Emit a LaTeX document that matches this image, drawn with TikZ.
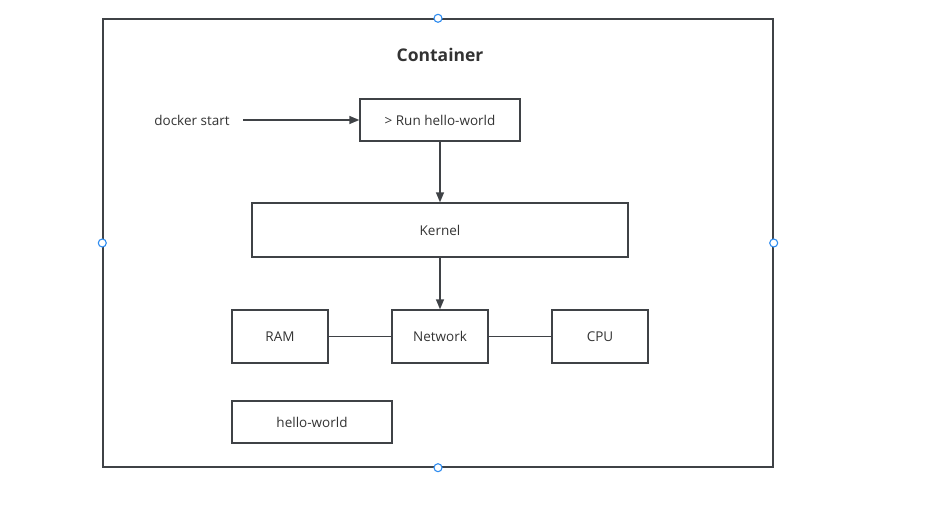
\documentclass[tikz,border=0pt]{standalone}
\usepackage{fontspec}
\setmainfont{Open Sans}
\usetikzlibrary{arrows.meta}
\definecolor{linegray}{HTML}{3F4246}
\definecolor{textgray}{HTML}{333333}
\definecolor{handleblue}{HTML}{2F8CF0}

\begin{document}
\begin{tikzpicture}[x=1pt, y=-1pt,
    box/.style = {draw = linegray, line width = 1.4pt, text = textgray, font = \fontsize{13.5}{16}\selectfont, inner sep = 0pt},
    link/.style = {draw = linegray, line width = 1.4pt},
    arrow/.style = {link, -{Triangle[length = 10pt, width = 8pt]}},
    handle/.style = {circle, draw = handleblue, fill = white, line width = 1.1pt, minimum size = 8pt, inner sep = 0pt}]
    \useasboundingbox (0,0) rectangle (940,506);

    % outer frame
    \node[box, minimum width = 670pt, minimum height = 448pt] (container) at (438,243) {};
    \node[text = textgray, font = \fontsize{17.5}{20}\selectfont\bfseries] (title) at (440,55) {Container};

    % boxes
    \node[text = textgray, font = \fontsize{13.5}{16}\selectfont] (start) at (192,120) {docker start};
    \coordinate (startend) at (243,120);
    \node[box, minimum width = 160pt, minimum height = 42pt] (run) at (440,120) {> Run hello-world};
    \node[box, minimum width = 376pt, minimum height = 54pt] (kernel) at (440,230) {Kernel};
    \node[box, minimum width = 96pt, minimum height = 53pt] (ram) at (280,336.5) {RAM};
    \node[box, minimum width = 96pt, minimum height = 53pt] (network) at (440,336.5) {Network};
    \node[box, minimum width = 96pt, minimum height = 53pt] (cpu) at (600,336.5) {CPU};
    \node[box, minimum width = 160pt, minimum height = 42pt] (hello) at (312,422) {hello-world};

    % connectors
    \draw[arrow] (startend) -- (run.west);
    \draw[arrow] (run.south) -- (kernel.north);
    \draw[arrow] (kernel.south) -- (network.north);
    \draw[link] (ram.east) -- (network.west);
    \draw[link] (network.east) -- (cpu.west);

    % selection handles
    \node[handle] (hn) at (container.north) {};
    \node[handle] (hs) at (container.south) {};
    \node[handle] (hw) at (container.west) {};
    \node[handle] (he) at (container.east) {};
\end{tikzpicture}
\end{document}
